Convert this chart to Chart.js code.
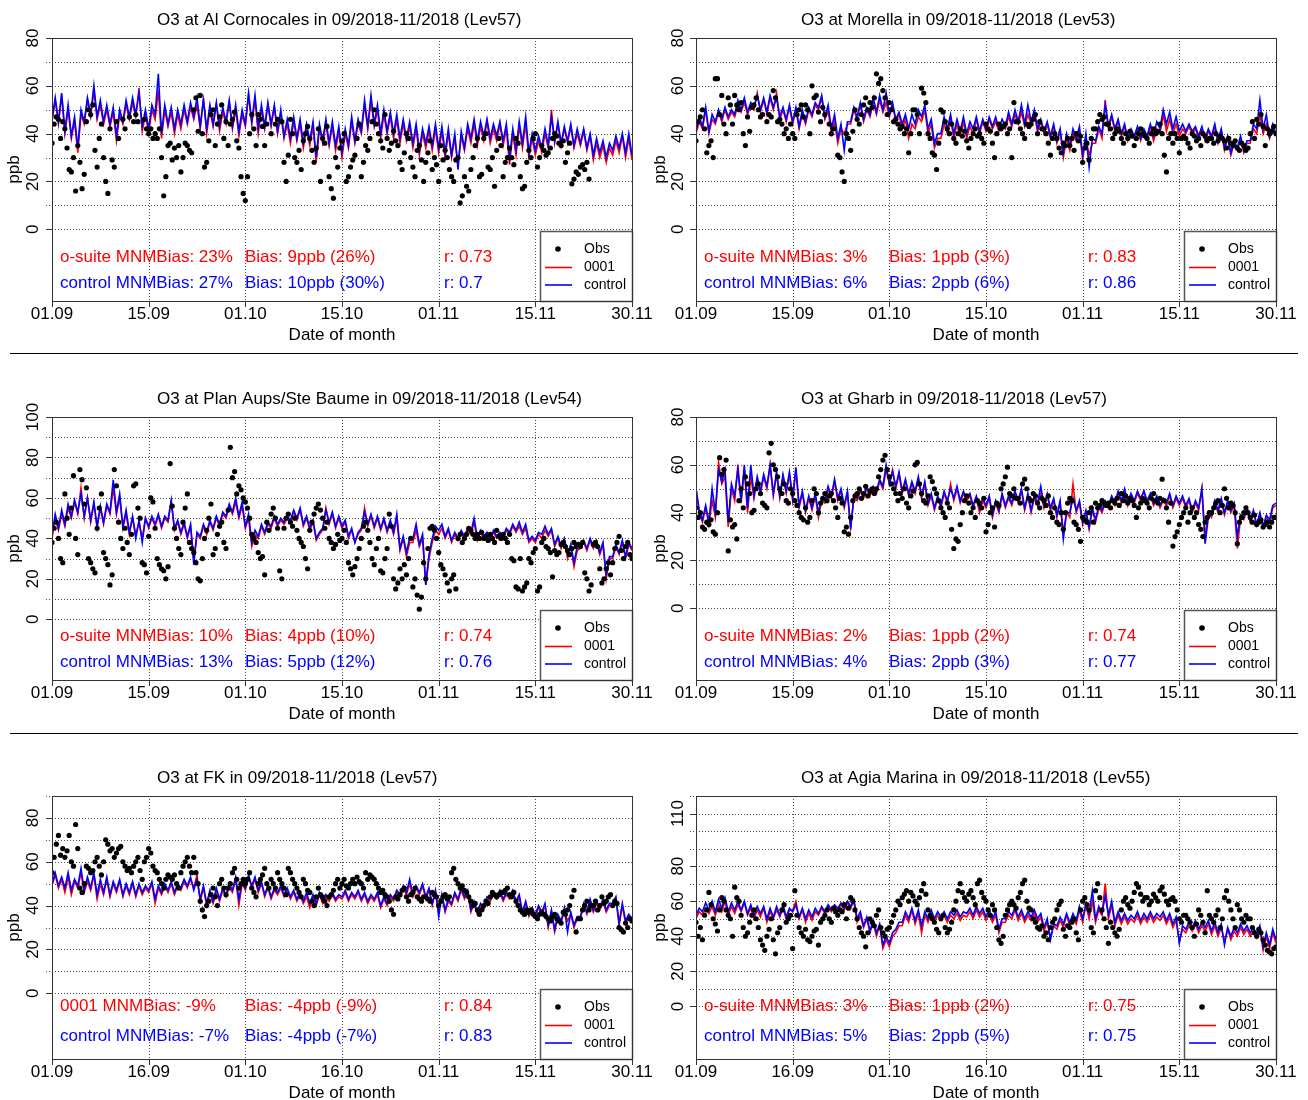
<!DOCTYPE html>
<html>
<head>
<meta charset="utf-8">
<title>O3 surface evaluation 09/2018-11/2018</title>
<script src="https://cdn.jsdelivr.net/npm/chart.js@4.4.1/dist/chart.umd.min.js"></script>
<style>
  html, body { margin: 0; padding: 0; background: #fff; }
  #page { position: relative; width: 1308px; height: 1100px; overflow: hidden; background: #fff; }
  #page canvas { position: absolute; }
  .sep { position: absolute; left: 10px; width: 1288px; height: 0; border-top: 1px solid #000; }
</style>
</head>
<body>
<div id="page">
  <canvas id="p0"></canvas>
  <canvas id="p1"></canvas>
  <canvas id="p2"></canvas>
  <canvas id="p3"></canvas>
  <canvas id="p4"></canvas>
  <canvas id="p5"></canvas>
  <div class="sep" style="top:353px"></div>
  <div class="sep" style="top:733px"></div>
</div>
<script>
// ---------------------------------------------------------------------------
// Axis ticks (day offsets from 01.09) and their labels
// ---------------------------------------------------------------------------
const dateTicks = [0, 15, 30, 45, 60, 75, 90];
const dateLabelsA = ['01.09', '15.09', '01.10', '15.10', '01.11', '15.11', '30.11'];
const dateLabelsB = ['01.09', '16.09', '01.10', '16.10', '01.11', '15.11', '30.11'];
const ppbTicks80 = [0, 20, 40, 60, 80];
const ppbTicks100 = [0, 20, 40, 60, 80, 100];
const ppbTicks110 = [0, 20, 40, 60, 80, 110];
const legendNames = ['Obs', '0001', 'control'];

const stationTitles = [
  'O3 at Al Cornocales in 09/2018-11/2018 (Lev57)',
  'O3 at Morella in 09/2018-11/2018 (Lev53)',
  'O3 at Plan Aups/Ste Baume in 09/2018-11/2018 (Lev54)',
  'O3 at Gharb in 09/2018-11/2018 (Lev57)',
  'O3 at FK in 09/2018-11/2018 (Lev57)',
  'O3 at Agia Marina in 09/2018-11/2018 (Lev55)'
];

// Score lines: [MNMBias, Bias, r] for the two model runs
const statsCornocales = [['o-suite MNMBias: 23%', 'Bias: 9ppb (26%)', 'r: 0.73'], ['control MNMBias: 27%', 'Bias: 10ppb (30%)', 'r: 0.7']];
const statsMorella = [['o-suite MNMBias: 3%', 'Bias: 1ppb (3%)', 'r: 0.83'], ['control MNMBias: 6%', 'Bias: 2ppb (6%)', 'r: 0.86']];
const statsPlanAups = [['o-suite MNMBias: 10%', 'Bias: 4ppb (10%)', 'r: 0.74'], ['control MNMBias: 13%', 'Bias: 5ppb (12%)', 'r: 0.76']];
const statsGharb = [['o-suite MNMBias: 2%', 'Bias: 1ppb (2%)', 'r: 0.74'], ['control MNMBias: 4%', 'Bias: 2ppb (3%)', 'r: 0.77']];
const statsFK = [['0001 MNMBias: -9%', 'Bias: -4ppb (-9%)', 'r: 0.84'], ['control MNMBias: -7%', 'Bias: -4ppb (-7%)', 'r: 0.83']];
const statsAgiaMarina = [['o-suite MNMBias: 3%', 'Bias: 1ppb (2%)', 'r: 0.75'], ['control MNMBias: 5%', 'Bias: 2ppb (5%)', 'r: 0.75']];

// ---------------------------------------------------------------------------
// Model runs: two values per day (12-hourly), ppb
// Observations: three values per day (8-hourly), ppb, null = missing
// ---------------------------------------------------------------------------
const cornocalesSuite = [
  45,54, 44,56, 40,50, 38,45, 32,48, 44,54, 47,58, 46,52, 44,50, 43,49,
  37,48, 44,52, 46,53, 47,59, 41,48, 40,50, 46,58, 38,50, 43,49, 40,48,
  42,50, 44,51, 46,52, 42,55, 40,50, 43,52, 41,49, 44,53, 42,50, 39,48,
  43,56, 44,54, 40,50, 42,52, 43,51, 40,48, 38,44, 36,45, 37,44, 34,42,
  35,43, 28,42, 36,44, 35,43, 33,41, 30,40, 34,45, 36,44, 40,52, 42,54,
  43,50, 38,48, 40,47, 38,46, 36,44, 37,43, 34,42, 31,40, 34,41, 33,42,
  32,41, 30,40, 30,38, 27,39, 33,42, 36,44, 35,43, 37,45, 36,42, 37,44,
  35,42, 27,40, 31,43, 34,44, 30,38, 31,37, 32,40, 34,50, 36,44, 35,42,
  36,43, 34,40, 35,41, 33,39, 29,36, 30,35, 28,34, 31,37, 32,39, 30,38, 29,30
];
const cornocalesControl = [
  46,55, 45,57, 41,52, 39,47, 34,50, 45,55, 48,60, 47,54, 45,52, 44,51,
  39,50, 45,54, 47,55, 48,57, 43,50, 42,52, 48,65, 40,52, 44,51, 42,50,
  44,52, 45,53, 47,55, 43,54, 42,52, 44,53, 43,51, 45,54, 43,52, 41,50,
  44,57, 45,56, 42,52, 43,53, 44,52, 41,50, 39,46, 38,47, 38,46, 36,44,
  37,45, 30,44, 37,46, 36,45, 35,43, 32,42, 35,47, 37,46, 41,54, 43,56,
  44,52, 40,50, 41,49, 40,48, 38,46, 38,45, 36,44, 33,42, 36,43, 35,44,
  34,43, 32,42, 31,40, 25,41, 34,44, 38,46, 37,45, 39,46, 38,44, 39,45,
  37,44, 30,42, 33,45, 36,47, 32,40, 33,39, 34,42, 35,47, 37,45, 36,43,
  37,44, 35,42, 36,42, 34,40, 31,38, 32,37, 30,36, 33,39, 34,40, 32,40, 31,33
];
const cornocalesObs = [
  36,44,47, 46,38,45, 42,34,25, 24,30,16, 35,28,17, 23,45,50, 48,52,33, 26,38,44, 30,20,15, 42,29,26,
  45,38,null, 46,42,null, 47,null,45, 48,45,null, null,46,42, 40,42,38, 40,38,42, 30,14,22, 35,36,29, 34,30,35,
  24,30,36, 35,33,32, 50,55,41, 56,40,26, 28,37,48, 50,35,44, 47,52,38, 45,35,44, 46,49,37, 34,22,15,
  12,22,40, 48,42,35, 48,46,43, 35,44,null, 40,null,44, 46,null,45, 28,20,31, 46,40,30, 28,33,25, 37,40,43,
  38,33,28, 34,42,20, 38,36,43, 22,17,13, 30,26,34, 37,40,20, 22,26,29, 31,38,44, 22,28,35, 33,38,45,
  50,44,40, 37,34,48, 38,33,36, 41,37,35, 28,25,32, 40,38,30, 26,22,33, 35,29,20, 28,32,37, 25,30,27,
  20,35,29, 33,30,25, 22,20,29, 30,11,14, 22,18,16, 25,30,35, 38,22,23, 38,40,26, 25,30,18, 33,38,35,
  22,28,30, 34,30,27, 38,36,22, 17,18,28, 33,30,38, 40,26,30, 35,33,31, 32,34,38, 40,39,36, 35,37,28,
  32,36,19, 21,24,23, 26,27,25, 28,21,null, null,null,null, null,null,null, null,null,null, null,null,null, null,null,null, null,null,null, null,null,null
];

const morellaSuite = [
  40,45, 42,50, 40,46, 44,49, 45,50, 46,49, 47,52, 49,53, 48,52, 50,57,
  49,54, 48,55, 50,57, 46,50, 45,51, 44,50, 42,48, 44,50, 47,52, 50,55,
  46,50, 40,45, 36,42, 40,44, 44,50, 46,52, 45,50, 47,53, 48,54, 49,53,
  47,52, 45,48, 42,46, 38,44, 42,47, 45,50, 40,44, 34,38, 38,44, 40,46,
  38,44, 39,45, 38,43, 40,46, 40,45, 41,46, 42,45, 41,44, 42,47, 43,48,
  44,49, 43,48, 44,48, 41,45, 40,44, 38,43, 36,41, 30,38, 33,40, 37,41,
  29,38, 31,36, 36,42, 38,54, 42,47, 41,45, 39,43, 37,41, 38,42, 37,41,
  38,43, 37,42, 40,48, 41,46, 40,44, 39,42, 40,43, 40,42, 38,42, 37,41,
  38,43, 36,41, 33,38, 31,36, 33,38, 32,36, 36,42, 40,48, 40,44, 38,42, 39,40
];
const morellaControl = [
  41,47, 43,51, 41,48, 45,50, 46,51, 47,50, 48,54, 50,55, 49,53, 51,56,
  50,55, 49,56, 51,55, 47,51, 46,52, 45,51, 43,50, 45,51, 48,53, 51,56,
  47,52, 42,48, 38,44, 33,45, 45,51, 47,53, 46,51, 48,55, 49,56, 50,57,
  48,53, 46,49, 44,48, 42,48, 44,50, 47,52, 42,46, 36,40, 40,47, 42,48,
  40,46, 41,47, 40,45, 42,47, 41,46, 42,47, 43,47, 42,46, 43,49, 44,50,
  45,52, 44,52, 45,50, 42,46, 41,45, 39,44, 37,42, 32,40, 35,42, 38,43,
  31,40, 26,38, 37,43, 40,52, 43,48, 42,46, 40,44, 38,42, 39,43, 38,42,
  39,44, 39,45, 42,50, 44,49, 42,47, 41,44, 41,44, 41,43, 39,43, 38,42,
  39,44, 37,42, 34,39, 32,37, 34,39, 33,37, 37,44, 42,54, 42,48, 39,44, 40,42
];
const morellaObs = [
  37,45,47, 50,42,32, 35,37,30, 63,63,48, 56,44,40, 55,52,44, 56,52,50, 53,40,35, 47,41,51, 52,55,50,
  47,48,null, 45,48,47, 58,55,45, 46,44,40, 42,38,44, 40,38,48, 50,52,47, 52,50,40, 60,55,56, 49,45,51,
  48,null,44, 40,42,null, 31,30,24, 20,40,38, 33,41,50, 46,44,48, 52,55,50, 53,51,55, 65,61,63, 58,55,48,
  53,50,45, 46,44,42, 43,40,42, 32,40,50, 50,48,40, 59,57,53, 40,38,32, 31,25,36, 50,49,45, 42,40,44,
  38,36,40, 42,39,41, 37,34,38, 40,42,39, 40,38,36, 44,42,41, 36,30,40, 44,42,43, 44,40,42, 30,53,45,
  45,42,40, 38,44,43, 44,46,48, 40,45,42, 42,40,36, 31,38,40, 38,34,32, 36,35,38, 35,38,33, 40,37,39,
  28,34,36, 29,38,42, 42,45,48, 46,47,44, 44,42,38, 40,42,41, 38,36,40, 38,41,39, 35,38,40, 42,40,39,
  38,36,40, 42,40,41, 44,40,31, 24,38,40, 36,40,38, 32,38,39, 38,36,34, 40,39,37, 38,35,40, 39,37,38,
  38,36,40, 37,39,38, 37,34,38, 36,35,37, 34,33,36, 35,33,34, 40,45,38, 46,44,48, 43,35,42, 40,41,43, 40,41,42
];

const planAupsSuite = [
  40,50, 44,52, 46,55, 50,58, 52,65, 50,60, 48,57, 45,55, 47,56, 52,65,
  52,60, 45,52, 42,50, 42,48, 40,50, 45,50, 46,51, 45,50, 48,58, 44,48,
  42,47, 40,46, 30,42, 40,46, 42,48, 44,50, 46,52, 50,56, 52,58, 50,56,
  45,50, 36,42, 40,46, 42,47, 45,50, 46,49, 47,50, 48,53, 49,54, 46,50,
  44,48, 39,42, 44,55, 47,52, 45,50, 45,48, 40,44, 38,42, 44,55, 46,51,
  45,50, 44,49, 43,48, 42,50, 34,40, 31,38, 38,44, 36,40, 17,30, 38,44,
  42,45, 40,44, 38,42, 39,43, 40,44, 42,48, 39,43, 40,42, 39,43, 40,42,
  40,44, 42,46, 43,46, 42,45, 38,40, 38,42, 40,44, 41,44, 36,40, 35,39,
  30,36, 26,34, 35,38, 34,39, 35,38, 32,37, 20,30, 30,36, 32,38, 30,37, 34,36
];
const planAupsControl = [
  42,52, 45,54, 47,57, 51,59, 53,62, 51,60, 49,58, 46,56, 48,57, 53,69,
  53,62, 46,54, 43,51, 40,49, 38,50, 46,51, 47,52, 46,51, 49,59, 45,49,
  43,48, 41,47, 27,43, 41,47, 43,49, 45,51, 47,53, 51,57, 53,60, 51,58,
  46,52, 38,44, 41,47, 43,48, 46,51, 47,50, 48,51, 49,54, 50,55, 47,51,
  45,49, 40,43, 45,54, 48,53, 46,51, 46,49, 41,45, 38,43, 45,53, 47,52,
  46,51, 45,50, 44,49, 43,52, 35,41, 33,40, 40,47, 37,42, 17,32, 40,46,
  44,47, 41,45, 39,43, 40,44, 41,45, 43,50, 40,44, 41,43, 40,44, 41,43,
  41,45, 43,47, 44,48, 43,47, 39,41, 39,43, 42,46, 42,45, 37,41, 36,40,
  32,37, 28,36, 36,39, 35,40, 36,39, 33,38, 22,31, 31,37, 33,39, 31,38, 35,38
];
const planAupsObs = [
  38,45,48, 40,30,28, 62,50,42, 55,71,40, 32,74,69, 57,65,30, 28,25,23, 45,55,62, 33,30,27, 17,22,74,
  66,48,40, 35,45,38, 32,42,66, 67,55,50, 28,27,23, 41,60,58, 45,30,27, 25,24,20, 26,77,56, 45,40,35,
  32,48,55, 62,38,35, 33,28,20, 19,30,40, 44,50,57, 32,35,42, 46,48,38, 35,54,85, 70,73,62, 66,64,60,
  58,55,50, 42,40,38, 33,30,31, 22,48,44, 52,55,50, 45,24,20, 45,50,52, 48,46,50, 44,40,38, 36,30,25,
  44,48,52, 55,57,54, 50,45,48, 40,38,35, 37,42,39, 40,44,38, 28,25,22, 26,30,35, 40,46,48, 44,38,30,
  27,35,40, 24,23,30, 35,52,46, 20,15,18, 25,20,27, 22,30,40, 16,20,12, 5,11,28, 20,35,45, 46,44,40,
  33,27,25, 22,18,14, 20,22,15, 40,42,38, 40,42,45, 44,42,40, 42,40,43, 40,41,39, 42,40,38, 44,41,40,
  42,40,38, 42,30,29, 16,15,30, 14,16,18, 30,28,33, 35,14,16, 38,40,36, 35,33,21, 34,32,33, 37,38,36,
  34,32,35, 38,36,37, 36,38,23, 20,14,17, 37,38,36, 25,18,20, 25,28,22, 28,35,38, 41,34,30, 36,38,32, 30,34,36
];

const gharbSuite = [
  50,40, 36,42, 35,45, 38,61, 52,55, 34,50, 45,60, 44,58, 40,55, 46,54,
  48,55, 50,60, 47,56, 46,55, 48,56, 45,58, 42,48, 40,46, 41,47, 38,45,
  44,50, 46,53, 45,49, 42,48, 34,46, 45,49, 46,50, 47,50, 48,53, 50,58,
  52,58, 50,56, 48,53, 47,52, 48,54, 46,52, 43,47, 41,46, 42,48, 44,52,
  45,50, 44,48, 45,47, 42,46, 40,45, 42,46, 38,44, 40,47, 42,46, 43,48,
  44,49, 41,47, 40,46, 43,48, 42,47, 41,45, 38,44, 32,40, 38,52, 40,44,
  35,40, 33,41, 36,42, 40,44, 42,46, 43,48, 44,49, 43,47, 44,48, 45,49,
  44,47, 43,46, 42,45, 43,47, 42,46, 43,46, 42,45, 40,44, 41,50, 30,40,
  38,44, 40,45, 39,44, 40,43, 25,38, 37,41, 36,40, 35,39, 34,38, 36,42, 43,44
];
const gharbControl = [
  50,41, 37,43, 36,50, 40,58, 53,58, 36,52, 47,58, 45,60, 42,60, 47,55,
  49,56, 51,60, 48,57, 47,56, 49,57, 46,59, 43,49, 41,47, 42,48, 40,46,
  45,51, 47,54, 46,50, 43,49, 33,47, 46,50, 47,51, 48,51, 49,54, 51,60,
  52,57, 51,57, 49,54, 48,53, 49,55, 47,53, 44,48, 42,47, 43,49, 45,50,
  46,51, 45,49, 46,48, 43,47, 42,46, 43,47, 39,45, 41,48, 43,47, 44,49,
  45,50, 42,48, 41,47, 44,51, 43,48, 42,46, 39,45, 29,40, 40,46, 41,45,
  36,41, 34,42, 37,43, 41,45, 43,47, 44,49, 45,50, 44,48, 45,49, 46,49,
  45,48, 44,47, 43,46, 44,48, 43,47, 44,47, 43,46, 41,45, 42,50, 27,38,
  39,45, 41,46, 40,45, 41,44, 30,39, 38,42, 37,41, 35,40, 34,39, 37,43, 44,44
];
const gharbObs = [
  42,38,40, 34,33,36, 35,37,32, 31,40,63, 56,58,62, 24,37,34, 35,29,45, 50,42,55, 52,48,40, 41,50,52,
  48,44,43, 42,65,69, 60,58,55, 50,48,52, 45,44,50, 48,45,43, 40,38,37, 42,36,38, 45,50,48, 40,44,46,
  48,45,47, 48,45,42, 38,46,44, 32,34,31, 38,45,47, 48,50,46, 48,51,47, 49,50,48, 50,55,58, 62,64,58,
  55,52,50, 48,45,48, 46,50,44, 42,47,49, 60,61,52, 48,45,44, 47,55,53, 50,48,45, 42,40,38, 44,42,33,
  25,29,28, 35,40,45, 47,44,40, 42,38,45, 44,42,46, 32,35,40, 42,34,44, 43,50,52, 55,59,48, 47,50,46,
  46,44,52, 54,50,46, 45,48,47, 44,42,46, 45,43,47, 40,38,42, 36,35,40, 33,40,44, 46,45,36, 35,33,28,
  38,37,36, 40,42,36, 44,42,43, 45,44,43, 44,42,45, 44,46,43, 48,45,47, 44,46,45, 43,38,42, 44,46,45,
  44,42,46, 48,45,44, 46,54,45, 42,36,44, 26,30,32, 35,38,40, 42,36,40, 42,38,40, 35,33,30, 36,38,40,
  40,42,44, 45,40,43, 50,46,42, 44,43,40, 27,36,38, 40,42,40, 38,36,39, 35,36,37, 34,35,36, 34,36,38, 38,40,41
];

const fkSuite = [
  49,54, 48,52, 46,53, 45,51, 48,55, 46,51, 47,54, 43,50, 45,52, 44,50,
  46,51, 44,49, 45,50, 44,49, 45,48, 46,50, 41,48, 45,49, 46,50, 45,49,
  47,51, 48,52, 48,54, 42,48, 40,46, 41,46, 42,47, 44,48, 46,52, 40,50,
  47,53, 48,52, 46,50, 44,48, 43,47, 45,48, 44,47, 43,46, 42,45, 41,44,
  39,44, 40,45, 41,44, 42,45, 42,44, 43,46, 42,45, 43,46, 42,45, 41,44,
  42,45, 39,43, 40,44, 42,46, 44,48, 45,50, 44,48, 45,49, 43,47, 40,46,
  38,44, 37,42, 40,45, 42,47, 43,46, 37,41, 36,40, 38,43, 42,45, 43,46,
  42,45, 43,46, 41,44, 36,41, 35,38, 35,39, 36,40, 30,37, 28,35, 32,38,
  33,36, 30,34, 34,40, 36,42, 37,41, 38,42, 37,40, 40,43, 31,40, 32,35, 33,34
];
const fkControl = [
  50,55, 49,53, 48,55, 47,52, 49,57, 47,53, 48,55, 45,52, 46,53, 45,51,
  47,52, 45,50, 46,51, 45,50, 46,49, 47,51, 43,49, 46,50, 47,51, 46,50,
  48,52, 49,53, 47,52, 43,49, 41,47, 42,48, 43,48, 45,50, 47,53, 43,51,
  48,54, 49,53, 47,51, 45,49, 44,48, 46,49, 45,48, 44,47, 43,46, 42,46,
  41,45, 41,46, 42,45, 43,46, 43,45, 44,47, 43,46, 44,47, 43,46, 42,45,
  43,46, 40,44, 41,45, 43,47, 45,49, 46,52, 45,49, 46,50, 44,48, 41,47,
  35,45, 38,43, 41,46, 43,48, 44,47, 38,42, 37,41, 39,44, 43,46, 44,47,
  43,46, 44,47, 42,45, 37,42, 36,39, 36,40, 37,41, 31,38, 29,36, 33,39,
  28,37, 31,35, 35,41, 37,43, 38,42, 39,43, 38,41, 41,44, 32,41, 33,36, 34,35
];
const fkObs = [
  55,62,68, 72,63,66, 62,65,72, 60,58,77, 66,48,46, 50,58,57, 55,56,60, 62,58,54, 60,70,68, 65,66,62,
  64,66,67, 60,58,56, 57,55,58, 60,62,56, 52,60,62, 66,64,58, 56,55,52, 50,48,52, 54,53,52, 54,50,48,
  55,58,60, 62,58,55, 62,55,50, 42,38,35, 40,42,45, 48,44,40, 50,52,48, 45,48,50, 55,57,52, 48,50,52,
  50,52,55, 48,46,44, 50,52,54, 57,50,48, 52,50,48, 55,52,50, 48,45,57, 55,52,50, 48,46,44, 52,50,47,
  46,42,40, 44,48,45, 44,42,40, 44,45,47, 50,52,48, 50,52,49, 48,50,52, 50,53,51, 50,48,55, 52,54,53,
  52,50,48, 46,47,45, 44,42,38, 36,44,43, 45,47,48, 44,42,45, 46,48,44, 43,42,44, 44,43,42, 46,45,44,
  40,42,44, 45,43,44, 55,57,52, 50,48,49, 47,46,44, 42,40,41, 38,36,38, 40,42,41, 44,46,45, 44,45,46,
  46,47,48, 45,44,46, 42,40,38, 37,36,38, 37,38,36, 35,34,36, 37,36,35, 34,33,35, 36,34,33, 32,37,36,
  38,40,44, 47,28,34, 34,38,40, 42,38,40, 40,42,38, 40,44,41, 42,44,45, 40,42,41, 30,29,28, 32,30,34, 33,34,35
];

const agiaMarinaSuite = [
  50,54, 52,56, 53,57, 52,58, 54,60, 52,57, 53,58, 54,59, 52,56, 50,55,
  51,56, 48,54, 50,55, 51,56, 50,55, 55,60, 50,55, 48,53, 49,54, 52,56,
  53,57, 54,57, 55,58, 55,59, 56,60, 48,52, 45,50, 42,48, 40,46, 33,38,
  34,40, 42,46, 46,52, 48,55, 47,53, 42,52, 48,53, 48,52, 49,52, 48,52,
  50,53, 49,52, 51,54, 50,55, 51,54, 49,53, 48,52, 42,48, 48,52, 50,55,
  49,53, 48,52, 49,53, 48,51, 43,48, 39,46, 44,49, 45,52, 46,51, 47,55,
  48,58, 50,60, 48,55, 52,70, 50,58, 46,52, 47,51, 47,50, 48,52, 47,51,
  48,52, 48,51, 49,52, 47,51, 45,49, 37,44, 42,46, 43,47, 42,46, 43,47,
  41,46, 40,45, 37,44, 38,43, 40,45, 41,44, 40,43, 39,44, 32,40, 33,42, 36,40
];
const agiaMarinaControl = [
  52,56, 54,59, 55,60, 54,61, 56,62, 54,59, 55,60, 55,60, 53,58, 52,57,
  53,57, 50,56, 51,57, 52,58, 51,56, 54,58, 51,56, 50,55, 51,56, 53,57,
  54,58, 55,58, 56,59, 56,60, 57,61, 50,54, 46,51, 43,49, 42,47, 35,40,
  36,42, 44,48, 48,54, 50,56, 49,55, 46,54, 50,55, 50,54, 51,54, 50,54,
  52,55, 51,54, 53,56, 52,57, 53,56, 51,55, 50,54, 44,50, 50,54, 52,56,
  51,55, 50,54, 51,55, 50,53, 45,50, 38,47, 46,51, 47,53, 48,53, 49,57,
  50,58, 53,66, 50,57, 53,63, 52,60, 48,54, 49,53, 49,52, 50,54, 49,53,
  50,54, 50,53, 51,54, 49,53, 47,51, 36,46, 44,48, 45,49, 44,48, 45,49,
  43,48, 42,47, 35,45, 40,45, 42,47, 43,46, 42,45, 41,46, 34,42, 35,44, 38,42
];
const agiaMarinaObs = [
  48,40,45, 38,52,55, 65,58,50, 47,43,55, 62,60,55, 52,50,40, 68,62,60, 52,45,40, 42,48,52, 55,50,45,
  38,35,32, 40,44,50, 38,30,42, 45,55,58, 48,50,52, 33,66,52, 45,42,40, 44,38,37, 40,43,44, 35,48,50,
  52,55,50, 48,56,54, 52,55,54, 58,50,56, 62,60,55, 50,45,42, 40,34,42, 50,48,46, 52,55,45, 42,40,44,
  45,48,52, 55,60,58, 62,64,66, 60,65,63, 60,58,62, 66,70,64, 55,52,50, 48,44,42, 50,52,45, 42,44,48,
  55,60,66, 70,65,62, 60,64,66, 62,58,70, 72,65,62, 60,55,52, 58,55,45, 38,36,40, 52,55,58, 60,58,56,
  62,65,70, 72,60,56, 55,50,48, 45,44,46, 40,42,38, 45,48,50, 55,58,60, 44,40,46, 45,48,50, 42,38,55,
  60,62,58, 55,45,42, 66,70,62, 55,50,45, 36,48,45, 42,40,44, 55,60,62, 58,56,60, 65,70,68, 64,60,62,
  62,58,60, 64,62,60, 66,68,64, 60,58,61, 62,60,55, 50,48,52, 52,50,48, 45,40,47, 55,52,48, 42,66,52,
  50,48,52, 55,45,50, 62,66,60, 55,50,45, 58,55,50, 48,52,50, 50,45,42, 40,44,42, 38,35,32, 31,30,33, 34,35,36
];

// ---------------------------------------------------------------------------
// Page layout and styling
// ---------------------------------------------------------------------------
const FONT = '"Liberation Sans", Arial, Helvetica, sans-serif';
const SUITE_COLOR = '#ff0000';
const CONTROL_COLOR = '#0000ff';
const GRID_COLOR = '#4a4a4a';

const columns = [
  { x: 0,   w: 654, padLeft: 52, padRight: 22, tickLabelDx: 19,   axisTitleDx: 38 },
  { x: 654, w: 654, padLeft: 42, padRight: 32, tickLabelDx: 17.5, axisTitleDx: 35.5 }
];
const rows = [
  { y: 0,   h: 353, padTop: 38, padBottom: 52, statOffsets: [44, 18] },
  { y: 353, h: 380, padTop: 64, padBottom: 53, statOffsets: [44, 18] },
  { y: 733, h: 367, padTop: 63, padBottom: 41, statOffsets: [53, 23] }
];
const statColumns = [8, 193, 392];

const panels = [
  { title: stationTitles[0], suite: cornocalesSuite, control: cornocalesControl, obs: cornocalesObs, stats: statsCornocales, yMax: 80,  yTicks: ppbTicks80,  dates: dateLabelsA, col: 0, row: 0 },
  { title: stationTitles[1], suite: morellaSuite,    control: morellaControl,    obs: morellaObs,    stats: statsMorella,    yMax: 80,  yTicks: ppbTicks80,  dates: dateLabelsA, col: 1, row: 0 },
  { title: stationTitles[2], suite: planAupsSuite,   control: planAupsControl,   obs: planAupsObs,   stats: statsPlanAups,   yMax: 100, yTicks: ppbTicks100, dates: dateLabelsA, col: 0, row: 1 },
  { title: stationTitles[3], suite: gharbSuite,      control: gharbControl,      obs: gharbObs,      stats: statsGharb,      yMax: 80,  yTicks: ppbTicks80,  dates: dateLabelsA, col: 1, row: 1 },
  { title: stationTitles[4], suite: fkSuite,         control: fkControl,         obs: fkObs,         stats: statsFK,         yMax: 90,  yTicks: ppbTicks80,  dates: dateLabelsB, col: 0, row: 2 },
  { title: stationTitles[5], suite: agiaMarinaSuite, control: agiaMarinaControl, obs: agiaMarinaObs, stats: statsAgiaMarina, yMax: 120, yTicks: ppbTicks110, dates: dateLabelsB, col: 1, row: 2 }
];

// Samples per day -> {x: day, y: value}
const toPoints = (values, perDay) => values.map((v, i) => ({ x: i / perDay, y: v }));

// Frame, grid, tick labels, score text and key for one station panel
function stationFrame(p, col, row) {
  return {
    id: 'stationFrame',
    beforeDatasetsDraw(chart) {
      const { ctx, chartArea: a, scales: { x, y } } = chart;
      ctx.save();
      // score lines sit underneath the dotted grid
      ctx.font = '17px ' + FONT;
      ctx.textAlign = 'left';
      ctx.textBaseline = 'middle';
      p.stats.forEach((line, k) => {
        ctx.fillStyle = k === 0 ? SUITE_COLOR : CONTROL_COLOR;
        const ty = a.bottom - row.statOffsets[k];
        line.forEach((txt, j) => ctx.fillText(txt, a.left + statColumns[j], ty));
      });
      // dotted grid: every 10 ppb from 0 up, and at each date tick
      ctx.strokeStyle = GRID_COLOR;
      ctx.lineWidth = 1;
      ctx.setLineDash([1, 2]);
      ctx.beginPath();
      for (let v = 0; v <= p.yMax; v += 10) {
        const py = Math.round(y.getPixelForValue(v)) + 0.5;
        ctx.moveTo(a.left - 6, py);
        ctx.lineTo(a.right, py);
      }
      dateTicks.forEach(d => {
        const px = Math.round(x.getPixelForValue(d)) + 0.5;
        ctx.moveTo(px, a.top);
        ctx.lineTo(px, a.bottom);
      });
      ctx.stroke();
      ctx.restore();
    },
    afterDatasetsDraw(chart) {
      const { ctx, chartArea: a, scales: { x, y } } = chart;
      ctx.save();

      // key box in the lower right corner
      const kw = 92, kh = 70, kx = a.right - kw, ky = a.bottom - kh;
      ctx.fillStyle = '#fff';
      ctx.fillRect(kx, ky, kw, kh);
      ctx.strokeStyle = '#555';
      ctx.lineWidth = 1.5;
      ctx.strokeRect(kx + 0.5, ky + 0.5, kw, kh);
      ctx.font = '14px ' + FONT;
      ctx.textAlign = 'left';
      ctx.textBaseline = 'middle';
      ctx.fillStyle = '#000';
      ctx.beginPath();
      ctx.arc(kx + 18, ky + 18, 2.8, 0, Math.PI * 2);
      ctx.fill();
      ctx.fillText(legendNames[0], kx + 44, ky + 18);
      [[SUITE_COLOR, 36.5], [CONTROL_COLOR, 54]].forEach(([c, dy]) => {
        ctx.strokeStyle = c;
        ctx.lineWidth = 1.6;
        ctx.beginPath();
        ctx.moveTo(kx + 5, ky + dy);
        ctx.lineTo(kx + 32, ky + dy);
        ctx.stroke();
      });
      ctx.fillText(legendNames[1], kx + 44, ky + 36.5);
      ctx.fillText(legendNames[2], kx + 44, ky + 54);

      // plot box
      ctx.strokeStyle = '#333';
      ctx.lineWidth = 1;
      ctx.strokeRect(Math.round(a.left) + 0.5, Math.round(a.top) + 0.5, Math.round(a.width), Math.round(a.height));

      // tick marks
      ctx.beginPath();
      p.yTicks.forEach(v => {
        const py = Math.round(y.getPixelForValue(v)) + 0.5;
        ctx.moveTo(a.left - 6, py);
        ctx.lineTo(a.left, py);
      });
      dateTicks.forEach(d => {
        const px = Math.round(x.getPixelForValue(d)) + 0.5;
        ctx.moveTo(px, a.bottom);
        ctx.lineTo(px, a.bottom + 6);
      });
      ctx.stroke();

      ctx.fillStyle = '#000';
      ctx.font = '17px ' + FONT;
      ctx.textBaseline = 'middle';

      // y tick labels, written along the axis
      ctx.textAlign = 'center';
      p.yTicks.forEach(v => {
        ctx.save();
        ctx.translate(a.left - col.tickLabelDx, y.getPixelForValue(v));
        ctx.rotate(-Math.PI / 2);
        ctx.fillText(String(v), 0, 0);
        ctx.restore();
      });
      ctx.save();
      ctx.translate(a.left - col.axisTitleDx, (a.top + a.bottom) / 2);
      ctx.rotate(-Math.PI / 2);
      ctx.fillText('ppb', 0, 0);
      ctx.restore();

      // date labels and x title
      dateTicks.forEach((d, i) => ctx.fillText(p.dates[i], x.getPixelForValue(d), a.bottom + 13.5));
      ctx.fillText('Date of month', (a.left + a.right) / 2, a.bottom + 34);

      // station title
      ctx.textAlign = 'left';
      ctx.fillText(p.title, a.left + 105, a.top - 17.7);
      ctx.restore();
    }
  };
}

panels.forEach((p, i) => {
  const col = columns[p.col], row = rows[p.row];
  const canvas = document.getElementById('p' + i);
  canvas.width = col.w;
  canvas.height = row.h;
  canvas.style.left = col.x + 'px';
  canvas.style.top = row.y + 'px';
  canvas.style.width = col.w + 'px';
  canvas.style.height = row.h + 'px';

  new Chart(canvas, {
    type: 'scatter',
    data: {
      datasets: [
        {
          label: legendNames[0],
          data: toPoints(p.obs, 3),
          showLine: false,
          pointRadius: 2.6,
          pointHoverRadius: 2.6,
          pointBorderWidth: 0,
          pointBackgroundColor: '#000',
          backgroundColor: '#000',
          order: 0,
          clip: 0
        },
        {
          label: legendNames[2],
          data: toPoints(p.control, 2),
          showLine: true,
          borderColor: CONTROL_COLOR,
          borderWidth: 1.6,
          pointRadius: 0,
          pointHoverRadius: 0,
          tension: 0,
          order: 1,
          clip: 0
        },
        {
          label: legendNames[1],
          data: toPoints(p.suite, 2),
          showLine: true,
          borderColor: SUITE_COLOR,
          borderWidth: 1.6,
          pointRadius: 0,
          pointHoverRadius: 0,
          tension: 0,
          order: 2,
          clip: 0
        }
      ]
    },
    options: {
      responsive: false,
      animation: false,
      devicePixelRatio: 1,
      events: [],
      layout: { padding: { left: col.padLeft, right: col.padRight, top: row.padTop, bottom: row.padBottom } },
      plugins: { legend: { display: false }, title: { display: false }, tooltip: { enabled: false } },
      scales: {
        x: { type: 'linear', min: 0, max: 90, display: false },
        y: { type: 'linear', min: -30, max: p.yMax, display: false }
      }
    },
    plugins: [stationFrame(p, col, row)]
  });
});
</script>
</body>
</html>
